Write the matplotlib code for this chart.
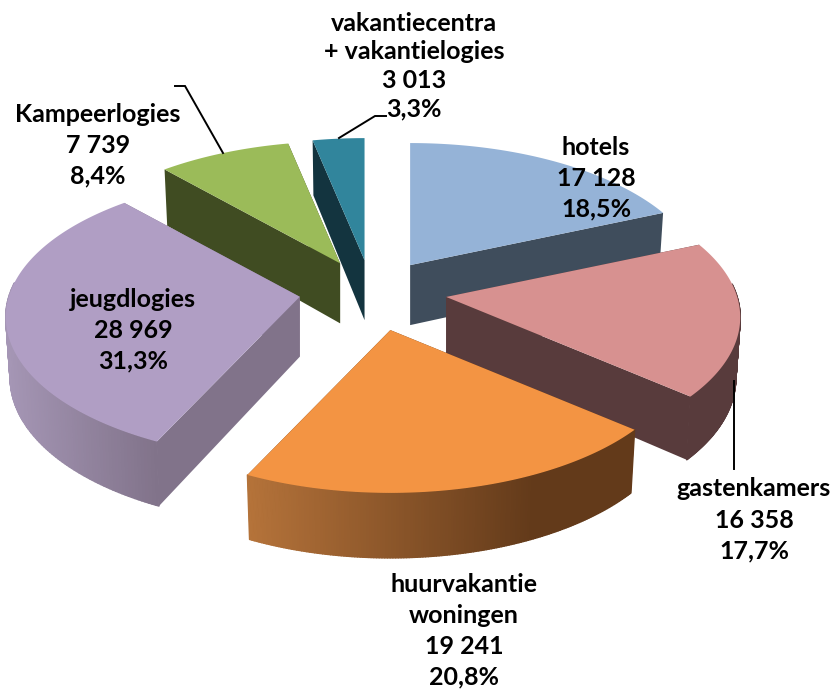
import matplotlib

matplotlib.use("Agg")
import matplotlib.pyplot as plt
import numpy as np
from matplotlib.collections import PolyCollection
from matplotlib.colors import to_rgb
from matplotlib.patches import Polygon

# ── Data ───────────────────────────────────────────────────────────────────────
categories = [
    "hotels",
    "gastenkamers",
    "huurvakantie\nwoningen",
    "jeugdlogies",
    "Kampeerlogies",
    "vakantiecentra\n+ vakantielogies",
]
values = [17128, 16358, 19241, 28969, 7739, 3013]

top_colors = ["#95b3d7", "#d79190", "#f39443", "#b09ec4", "#9bbb59", "#31859c"]
wall_colors = ["#3f4d5c", "#583b3c", "#633a1a", "#81738a", "#404c22", "#13343f"]
wall_light = [None, None, "#b5733a", "#a596b5", None, None]
wall_stop = [1.0, 1.0, 0.74, 1.0, 1.0, 1.0]  # where the gradient goes flat

# ── Geometry of the fake 3D pie, everything in pixels ──────────────────────────
W, H = 834, 691
CX, CY = 372, 291
RX, RY = 291, 139.5
PERSP = 0.143
DEPTH = 60
EX, EY_BACK, EY_FRONT = 73, 31, 40
nudge = [(-2, 0), (2, 0), (3, 0), (0, 0), (1, 0), (0, 0)]

label_xy = [(596, 178), (754, 520), (464, 631), (133, 330), (98, 145), (414, 66)]
label_spacing = [1.4, 1.44, 1.41, 1.4, 1.41, 1.29]
leaders = [
    ([734, 734], [381, 469]),
    ([175, 185, 223], [86, 86, 153]),
    ([339, 375, 386], [138, 116, 116]),
]

plt.rcParams["font.family"] = ["Lato", "DejaVu Sans"]


def project(angle):
    u, v = np.sin(angle), np.cos(angle)
    s = 1 / (1 + PERSP * v)
    return RX * u * s, -RY * v * s, v


def lower(dx, dy, v):
    return dx * 0.985, dy + DEPTH - 5 * v


fig = plt.figure(figsize=(W / 100, H / 100), dpi=100)
ax = fig.add_axes([0, 0, 1, 1])
ax.set_xlim(0, W)
ax.set_ylim(H, 0)
ax.axis("off")

total = sum(values)
edges = np.cumsum([0] + values) / total * 2 * np.pi

# back slices first, the front ones overlap them
for i in [5, 4, 0, 1, 3, 2]:
    a0, a1 = edges[i], edges[i + 1]
    mid = (a0 + a1) / 2
    ax0 = CX + EX * np.sin(mid) + nudge[i][0]
    ay0 = CY - np.cos(mid) * (EY_BACK if np.cos(mid) > 0 else EY_FRONT) + nudge[i][1]

    ang = np.linspace(a0, a1, 161)
    dx, dy, v = project(ang)
    lx, ly = lower(dx, dy, v)

    # cut faces
    for k in [0, -1]:
        wall = [
            (ax0, ay0),
            (ax0 + dx[k], ay0 + dy[k]),
            (ax0 + lx[k], ay0 + ly[k]),
            (ax0, ay0 + DEPTH),
        ]
        ax.add_patch(Polygon(wall, fc=wall_colors[i], lw=0))

    # outer wall as a strip of quads, so it can carry the gradient
    quads, cols = [], []
    x_min, x_max = dx.min(), dx.max()
    dark = np.array(to_rgb(wall_colors[i]))
    light = np.array(to_rgb(wall_light[i])) if wall_light[i] else dark
    for k in range(len(ang) - 1):
        if v[k] > 0.1:  # back of the arc is hidden by the top
            continue
        quads.append(
            [
                (ax0 + dx[k], ay0 + dy[k]),
                (ax0 + dx[k + 1], ay0 + dy[k + 1]),
                (ax0 + lx[k + 1], ay0 + ly[k + 1]),
                (ax0 + lx[k], ay0 + ly[k]),
            ]
        )
        t = min((dx[k] - x_min) / (x_max - x_min) / wall_stop[i], 1)
        cols.append(light + (dark - light) * t)
    if quads:
        ax.add_collection(
            PolyCollection(quads, facecolors=cols, edgecolors=cols, lw=1.0)
        )

    # top
    top = [(ax0, ay0)] + list(zip(ax0 + dx, ay0 + dy))
    ax.add_patch(Polygon(top, fc=top_colors[i], lw=0))

# ── Leader lines ───────────────────────────────────────────────────────────────
for xs, ys in leaders:
    ax.plot(xs, ys, color="black", lw=1.4, solid_joinstyle="miter")

# ── Labels ─────────────────────────────────────────────────────────────────────
for name, val, (x, y), sp in zip(categories, values, label_xy, label_spacing):
    num = f"{val:,}".replace(",", " ")
    pct = f"{100 * val / total:.1f}".replace(".", ",")
    ax.text(
        x,
        y,
        f"{name}\n{num}\n{pct}%",
        ha="center",
        va="center",
        ma="center",
        fontsize=18,
        fontweight="bold",
        color="black",
        linespacing=sp,
    )

fig.savefig("out.png", dpi=100)
